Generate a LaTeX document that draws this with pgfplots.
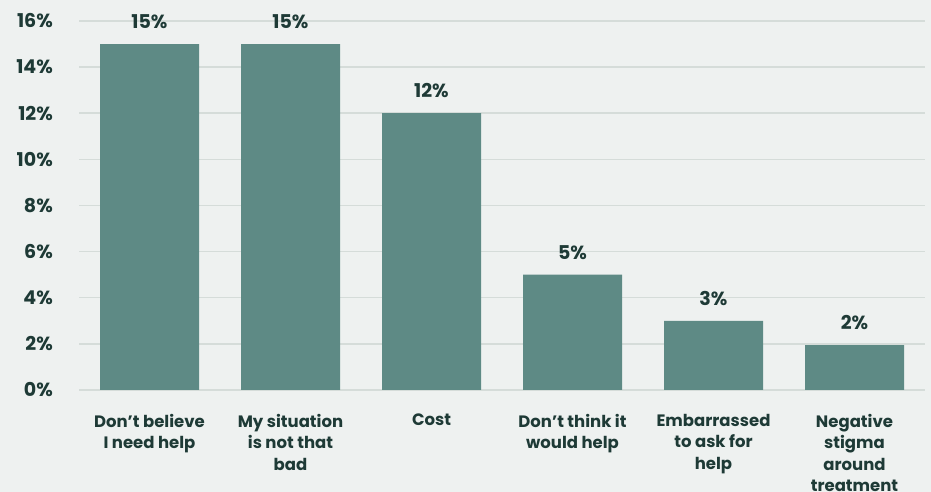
\documentclass[border=0pt]{standalone}
\usepackage{pgfplots}
\pgfplotsset{compat=1.18}
\usepackage{fontspec}
\setmainfont{Poppins}
\definecolor{bgc}{HTML}{EEF1F0}
\definecolor{barc}{HTML}{5E8A85}
\definecolor{txtc}{HTML}{1E3A36}
\definecolor{gridc}{HTML}{D5DCD9}
\begin{document}
\begin{tikzpicture}
\fill[bgc] (0,0) rectangle (931bp,492bp);
\begin{axis}[
  at={(79bp,102bp)}, anchor=south west,
  scale only axis, width=846bp, height=369bp,
  xmin=-0.5, xmax=5.5, ymin=0, ymax=16,
  axis line style={draw=none},
  major tick length=0pt,
  /pgf/number format/assume math mode=true,
  /pgf/number format/fixed, /pgf/number format/precision=0,
  ytick={0,2,4,6,8,10,12,14,16},
  yticklabels={0\%,2\%,4\%,6\%,8\%,10\%,12\%,14\%,16\%},
  ymajorgrids, grid style={draw=gridc, line width=1.5bp},
  yticklabel style={anchor=east, inner sep=0pt, xshift=-26bp, text=txtc, font=\fontsize{19bp}{22bp}\selectfont\bfseries},
  xtick=data,
  xticklabels={{Don’t believe\\I need help},{My situation\\is not that\\bad},{Cost},{Don’t think it\\would help},{Embarrassed\\to ask for\\help},{Negative\\stigma\\around\\treatment}},
  xticklabel style={anchor=north, inner sep=0pt, yshift=-24bp, align=center, text=txtc, font=\fontsize{16.5bp}{21.5bp}\selectfont\bfseries},
  ybar, bar width=99bp,
  nodes near coords={\pgfmathprintnumber{\pgfplotspointmeta}\%},
  nodes near coords style={anchor=south, inner sep=0pt, yshift=15bp, text=txtc, font=\fontsize{19bp}{22bp}\selectfont\bfseries},
]
\addplot[fill=barc, draw=none] coordinates {(0,15) (1,15) (2,12) (3,5) (4,3) (5,1.95)};
\end{axis}
\pgfresetboundingbox
\path[use as bounding box] (0,0) rectangle (931bp,492bp);
\end{tikzpicture}
\end{document}
